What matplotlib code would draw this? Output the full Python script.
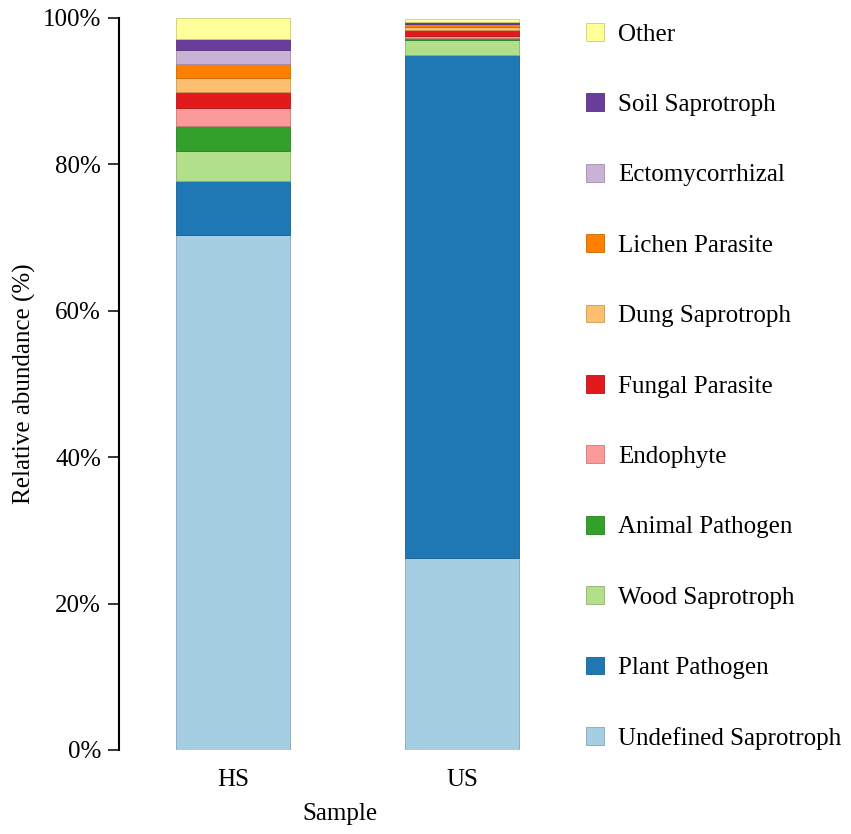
import numpy as np
import matplotlib
matplotlib.use("Agg")
from matplotlib import pyplot as plt
from matplotlib.colors import to_rgb

plt.rcParams['font.family'] = ['Liberation Serif', 'DejaVu Serif']

samples = ["HS", "US"]
guilds = ["Undefined Saprotroph", "Plant Pathogen", "Wood Saprotroph", "Animal Pathogen",
          "Endophyte", "Fungal Parasite", "Dung Saprotroph", "Lichen Parasite",
          "Ectomycorrhizal", "Soil Saprotroph", "Other"]
hs_values = [70.4, 7.4, 4.0, 3.4, 2.5, 2.2, 1.9, 1.9, 1.9, 1.5, 2.9]
us_values = [26.2, 68.7, 2.1, 0.25, 0.3, 0.8, 0.4, 0.3, 0.15, 0.2, 0.5]
couleurs = ["#a6cee3", "#1f78b4", "#b2df8a", "#33a02c", "#fb9a99", "#e31a1c",
            "#fdbf6f", "#ff7f00", "#cab2d6", "#6a3d9a", "#ffff99"]

valeurs = np.array([hs_values, us_values]).T

def assombrir(c, f=0.8):
    r, g, b = to_rgb(c)
    return (r * f, g * f, b * f)

fig = plt.figure(figsize=(8.51, 8.34), dpi=100)
ax = fig.add_axes([119 / 851, 1 - 750 / 834, (560 - 119) / 851, (750 - 18) / 834])

x = np.arange(len(samples))
bas = np.zeros(len(samples))
barres = []
for i, nom in enumerate(guilds):
    b = ax.bar(x, valeurs[i], 0.5, bottom=bas, color=couleurs[i],
               edgecolor=assombrir(couleurs[i]), linewidth=0.6, label=nom)
    barres.append(b)
    bas += valeurs[i]

ax.set_xlim(-0.497, 1.428)
ax.set_ylim(0, 100)
ax.set_yticks(np.arange(0, 101, 20))
ax.set_yticklabels([f"{v}%" for v in range(0, 101, 20)])
ax.set_xticks(x)
ax.set_xticklabels(samples)
ax.tick_params(axis='y', labelsize=18, length=8, width=1.1, pad=5)
ax.tick_params(axis='x', labelsize=18, length=0, pad=14)
for s in ["top", "right", "bottom"]:
    ax.spines[s].set_visible(False)
ax.spines["left"].set_linewidth(1.5)
ax.set_ylabel("Relative abundance (%)", fontsize=18, labelpad=5)
ax.set_xlabel("Sample", fontsize=18, labelpad=8)

leg = ax.legend(barres[::-1], guilds[::-1], loc="upper left",
                bbox_to_anchor=(576 / 851, 1 - 13 / 834), bbox_transform=fig.transFigure,
                frameon=False, fontsize=18, labelspacing=1.91, handlelength=0.72,
                handleheight=0.72, handletextpad=0.56, borderaxespad=0)

plt.savefig("out.png", dpi=100)
